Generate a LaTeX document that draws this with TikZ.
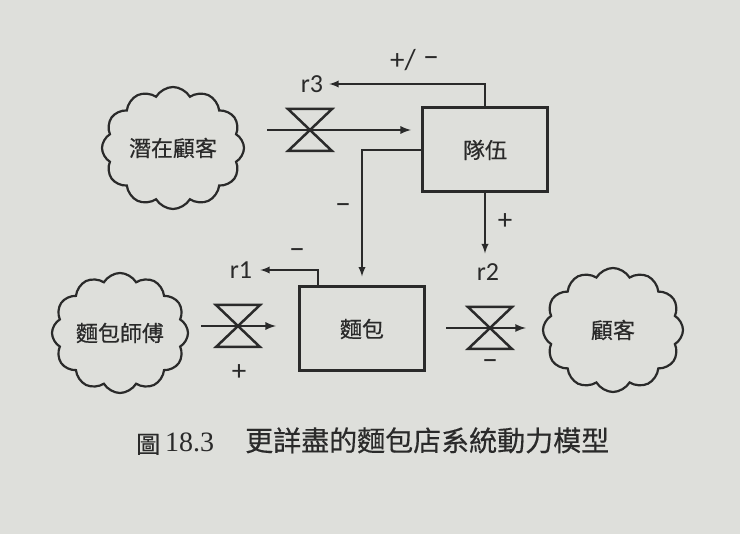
\documentclass[tikz,border=0pt]{standalone}
\usepackage{fontspec}
\setmainfont{Liberation Serif}
\newfontfamily\cjk[FakeBold=0.4]{Noto Sans CJK TC}
\newfontfamily\lab{Carlito}
\usetikzlibrary{arrows,shapes.symbols}
\definecolor{paper}{RGB}{222,223,219}
\definecolor{ink}{RGB}{42,42,42}

\begin{document}
\begin{tikzpicture}[x=1pt,y=-1pt]
\tikzset{cloudnode/.style={draw=ink,line width=2.2pt,cloud,cloud puffs=12,cloud puff arc=120,cloud ignores aspect,minimum width=142pt,minimum height=122pt,inner sep=0pt,text=ink,font=\cjk\fontsize{22}{24}\selectfont},
stock/.style={draw=ink,line width=3pt,minimum width=125pt,minimum height=84pt,text=ink,font=\cjk\fontsize{22}{24}\selectfont},
flow/.style={draw=ink,line width=2.6pt,-latex},
link/.style={draw=ink,line width=2.2pt,-latex},
sign/.style={text=ink,inner sep=2pt,font=\lab\fontsize{26}{28}\selectfont},
plussign/.style={text=ink,inner sep=2pt,font=\lab\fontsize{29}{31}\selectfont},
minussign/.style={text=ink,inner sep=2pt,font=\lab\fontsize{32}{34}\selectfont},
valve/.pic={\draw[ink,line width=2.5pt,line join=miter] (-22,-21) -- (22,-21) -- (-22,21) -- (22,21) -- cycle;}}
\fill[paper] (0,0) rectangle (740,534);

\node[cloudnode] (potential) at (173,148) {潛在顧客};
\node[cloudnode,minimum width=136pt,minimum height=120pt] (baker) at (120,333) {麵包師傅};
\node[cloudnode,minimum width=140pt,minimum height=124pt] (customer) at (613,330) {顧客};
\node[stock] (queue) at (485,150) {隊伍};
\node[stock] (bread) at (362,329) {麵包};

\coordinate (v3) at (310,130);
\coordinate (v1) at (238,326);
\coordinate (v2) at (490,328);
\pic at (v3) {valve};
\pic at (v1) {valve};
\pic at (v2) {valve};

\draw[flow,shorten <=22pt,shorten >=10pt] (potential.east |- v3) -- (queue.west |- v3);
\draw[flow,shorten <=12pt,shorten >=22pt] (baker.east |- v1) -- (bread.west |- v1);
\draw[flow,shorten <=20pt,shorten >=16pt] (bread.east |- v2) -- (customer.west |- v2);

\node[sign] (r3) at (312,84) {r3};
\node[sign] (r1) at (241,270) {r1};
\node[sign] (r2) at (488,272) {r2};

\draw[link,shorten >=4pt] (queue.north) |- (r3.east);
\draw[link,shorten >=9pt] (queue.west) -| (bread.north);
\draw[link,shorten >=8pt] (queue.south) -- (queue.south |- r2.north);
\draw[link,shorten >=6pt] ([xshift=20pt]bread.north west) |- (r1.east);

\node[plussign] (s3) at (403,60) {+/};
\node[minussign] (s3b) at (431,62) {–};
\node[minussign] (sq) at (343,209) {–};
\node[plussign] (s2) at (505,222) {+};
\node[minussign] (s1) at (297,254) {–};
\node[plussign] (sb) at (239,373) {+};
\node[minussign] (sc) at (490,365) {–};

\node[anchor=base west,inner sep=0pt,text=ink,font=\cjk\fontsize{24}{26}\selectfont] (fig) at (136,453) {圖};
\node[anchor=base west,inner sep=0pt,text=ink,font=\fontsize{28}{30}\selectfont] (num) at (165,452) {18.3};
\node[anchor=base west,inner sep=0pt,text=ink,font=\cjk\fontsize{28}{30}\selectfont] (caption) at (245,451) {更詳盡的麵包店系統動力模型};
\end{tikzpicture}
\end{document}
